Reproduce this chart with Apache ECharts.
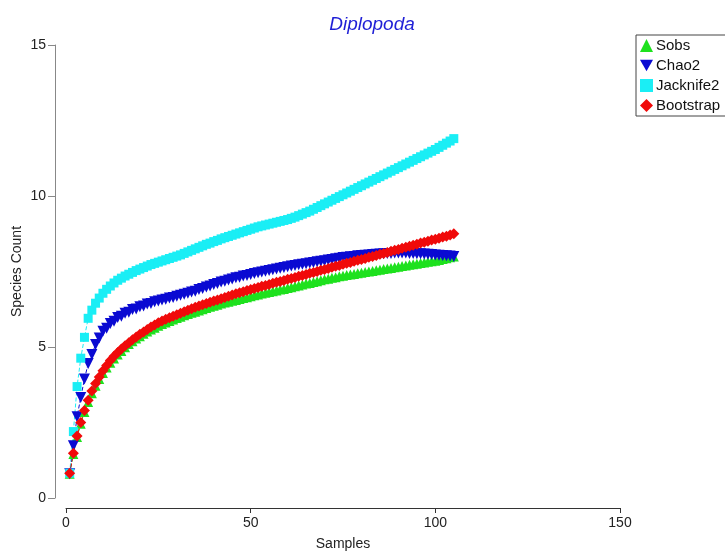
<!DOCTYPE html>
<html>
<head>
<meta charset="utf-8">
<script src="https://cdn.jsdelivr.net/npm/echarts@6/dist/echarts.min.js"></script>
<style>
html,body{margin:0;padding:0;background:#fff;}
#chart{width:725px;height:554px;}
</style>
</head>
<body>
<div id="chart"></div>
<script>
var seriesNames = ['Sobs', 'Chao2', 'Jacknife2', 'Bootstrap'];
var xTicks = [0, 50, 100, 150];
var yTicks = [0, 5, 10, 15];

// samples 1..105
var sobs = [0.80,1.46,2.02,2.46,2.85,3.18,3.47,3.72,3.94,4.14,4.32,4.48,4.62,4.75,4.87,4.99,5.10,5.19,5.28,5.36,5.44,5.51,5.58,
  5.64,5.70,5.76,5.81,5.86,5.91,5.96,6.00,6.05,6.09,6.13,6.17,6.21,6.25,6.29,6.33,6.37,6.40,6.44,6.47,6.50,6.53,6.56,6.59,6.62,6.65,
  6.68,6.71,6.74,6.77,6.80,6.82,6.85,6.87,6.90,6.92,6.95,6.98,7.01,7.04,7.07,7.10,7.12,7.15,7.18,7.21,7.24,7.26,7.29,7.31,7.34,7.36,
  7.38,7.40,7.42,7.44,7.46,7.48,7.50,7.52,7.54,7.56,7.58,7.60,7.62,7.64,7.66,7.68,7.70,7.72,7.74,7.76,7.78,7.80,7.82,7.84,7.86,7.88,
  7.91,7.94,7.97,8.00];
var chao2 = [0.80,1.73,2.69,3.33,3.94,4.45,4.75,5.08,5.30,5.52,5.62,5.78,5.85,5.98,6.02,6.12,6.15,6.24,6.26,6.33,6.36,6.42,6.44,6.50,
  6.52,6.56,6.58,6.62,6.64,6.68,6.71,6.75,6.78,6.82,6.85,6.90,6.94,6.99,7.02,7.07,7.10,7.15,7.18,7.22,7.25,7.29,7.31,7.35,7.37,7.40,
  7.43,7.46,7.48,7.51,7.53,7.56,7.58,7.61,7.63,7.66,7.68,7.70,7.72,7.74,7.76,7.78,7.80,7.82,7.84,7.86,7.88,7.90,7.92,7.94,7.96,7.97,
  7.99,8.00,8.02,8.03,8.04,8.05,8.06,8.07,8.08,8.09,8.10,8.10,8.11,8.11,8.11,8.11,8.10,8.10,8.09,8.09,8.08,8.07,8.06,8.05,8.04,8.03,
  8.02,8.01,8.00];
var jack2 = [0.82,2.20,3.69,4.63,5.32,5.95,6.22,6.45,6.62,6.78,6.91,7.02,7.12,7.21,7.28,7.35,7.41,7.47,7.53,7.58,7.63,7.68,7.73,7.77,
  7.81,7.85,7.89,7.93,7.97,8.01,8.05,8.10,8.15,8.20,8.25,8.30,8.35,8.40,8.44,8.49,8.53,8.58,8.62,8.66,8.70,8.74,8.78,8.82,8.86,8.90,
  8.94,8.98,9.01,9.04,9.07,9.10,9.13,9.16,9.19,9.22,9.26,9.30,9.35,9.40,9.45,9.50,9.56,9.62,9.68,9.74,9.80,9.86,9.92,9.98,10.04,10.10,
  10.16,10.22,10.28,10.34,10.40,10.46,10.52,10.58,10.64,10.70,10.76,10.82,10.88,10.94,11.00,11.06,11.12,11.18,11.24,11.30,11.36,11.42,
  11.48,11.54,11.61,11.68,11.75,11.82,11.90];
var boot = [0.82,1.48,2.05,2.50,2.90,3.24,3.54,3.79,4.01,4.21,4.39,4.55,4.69,4.82,4.93,5.04,5.14,5.24,5.33,5.42,5.50,5.58,5.66,5.73,
  5.80,5.86,5.92,5.97,6.02,6.07,6.12,6.17,6.22,6.27,6.32,6.36,6.40,6.44,6.48,6.52,6.56,6.60,6.64,6.68,6.72,6.76,6.80,6.83,6.87,6.90,
  6.94,6.97,7.01,7.04,7.07,7.11,7.14,7.17,7.20,7.24,7.27,7.30,7.34,7.37,7.40,7.44,7.47,7.50,7.54,7.57,7.60,7.64,7.67,7.70,7.74,7.77,
  7.80,7.84,7.87,7.90,7.93,7.97,8.00,8.03,8.07,8.10,8.13,8.17,8.20,8.23,8.27,8.30,8.34,8.37,8.40,8.44,8.47,8.50,8.54,8.57,8.60,8.64,
  8.67,8.71,8.75];

var colors = ['#1ee11e', '#0a0ad2', '#1aeef5', '#f00a0a'];
var downTri = 'path://M0,0 L10,0 L5,9 Z';
var symbols = ['triangle', downTri, 'rect', 'diamond'];
var sizes = [10, 11, 9, 11];
var allData = [sobs, chao2, jack2, boot];

function toPoints(arr){
	var pts = [];
	for (var i = 0; i < arr.length; i++) pts.push([i + 1, arr[i]]);
	return pts;
}

var chart = echarts.init(document.getElementById('chart'));
var series = [];
for (var k = 0; k < seriesNames.length; k++) {
	series.push({
		name: seriesNames[k],
		type: 'line',
		data: toPoints(allData[k]),
		symbol: symbols[k],
		symbolSize: sizes[k],
		showAllSymbol: true,
		itemStyle: { color: colors[k] },
		lineStyle: { color: colors[k], width: 1, type: 'dashed' }
	});
}

var option = {
	animation: false,
	textStyle: { fontFamily: 'Liberation Sans, Arial, sans-serif' },
	title: {
		text: 'Diplopoda',
		left: 367,
		textAlign: 'center',
		top: 10,
		textStyle: { color: '#1f1fd6', fontStyle: 'italic', fontWeight: 'normal', fontSize: 19 }
	},
	legend: {
		orient: 'vertical',
		left: 636,
		top: 35,
		itemWidth: 13,
		itemHeight: 13,
		itemGap: 5,
		padding: [3, 10, 3, 4],
		borderColor: '#444',
		borderWidth: 1,
		borderRadius: 0,
		textStyle: { fontSize: 15, color: '#111', padding: [0, 0, 0, -2] },
		data: seriesNames.map(function (n, i) { return { name: n, icon: symbols[i] }; })
	},
	grid: { left: 66, right: 105, top: 45, bottom: 56, outerBoundsMode: 'none', containLabel: false },
	xAxis: {
		type: 'value',
		min: 0, max: 150, interval: 50,
		offset: 10,
		name: 'Samples',
		nameLocation: 'middle',
		nameGap: 29,
		nameMoveOverlap: false,
		nameTextStyle: { fontSize: 14, color: '#222' },
		axisLine: { onZero: false, lineStyle: { color: '#333' } },
		axisTick: { length: 5, lineStyle: { color: '#333' } },
		axisLabel: { fontSize: 14, color: '#222', margin: 8 },
		splitLine: { show: false }
	},
	yAxis: {
		type: 'value',
		min: 0, max: 15, interval: 5,
		offset: 11,
		name: 'Species Count',
		nameLocation: 'middle',
		nameGap: 31,
		nameMoveOverlap: false,
		nameTextStyle: { fontSize: 14, color: '#222' },
		axisLine: { show: true, onZero: false, lineStyle: { color: '#888' } },
		axisTick: { show: true, length: 7, lineStyle: { color: '#888' } },
		axisLabel: { fontSize: 14, color: '#222', margin: 9 },
		splitLine: { show: false }
	},
	series: series
};
chart.setOption(option);
</script>
</body>
</html>
